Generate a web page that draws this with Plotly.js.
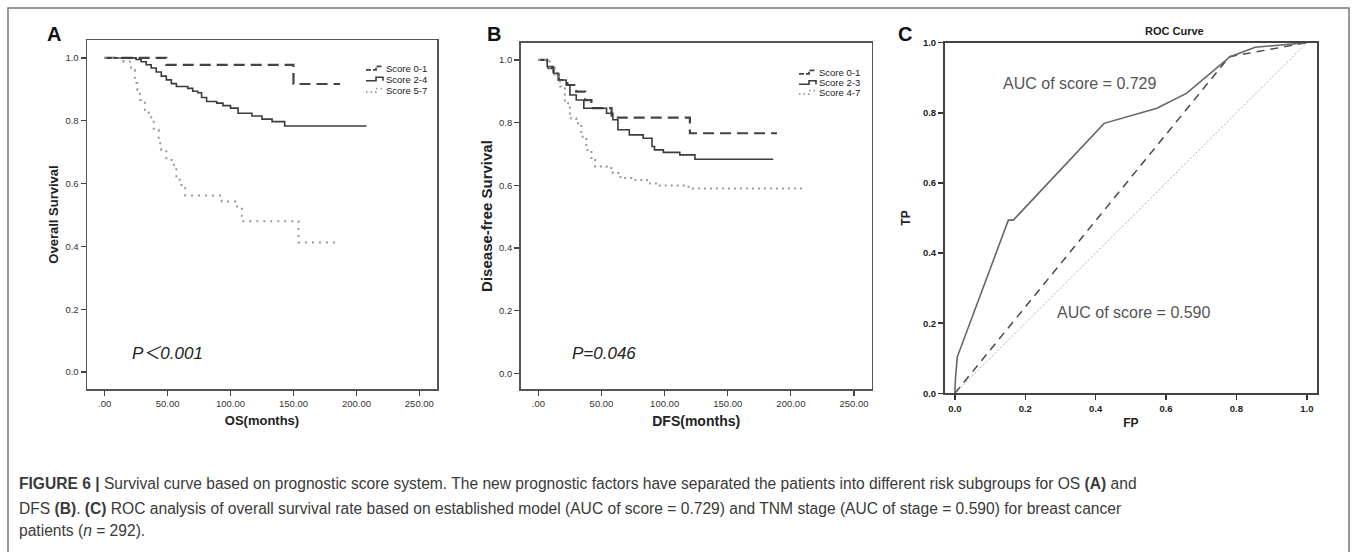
<!DOCTYPE html>
<html>
<head>
<meta charset="utf-8">
<script src="https://cdn.plot.ly/plotly-3.0.1.min.js"></script>
<style>
  html, body { margin: 0; padding: 0; background: #fff; }
  #chart { width: 1357px; height: 552px; }
</style>
</head>
<body>
<div id="chart"></div>
<script>
// ---------------- DATA ----------------
// Panel A: overall survival (Kaplan-Meier step curves)
const osTime01 = [0, 49, 150, 187];
const osSurv01 = [1.0, 0.978, 0.917, 0.917];
const osTime24 = [0, 25, 29, 33, 37, 41, 45, 49, 53, 57, 66, 70, 74, 77, 81, 89, 94, 100, 106, 117, 125, 133, 143, 208];
const osSurv24 = [1.0, 0.995, 0.988, 0.978, 0.968, 0.955, 0.942, 0.930, 0.918, 0.909, 0.903, 0.894, 0.889, 0.874, 0.861, 0.856, 0.848, 0.840, 0.824, 0.815, 0.805, 0.797, 0.783, 0.783];
const osTime57 = [0, 15, 21, 24, 26, 28, 32, 35, 39, 43, 45, 49, 55, 57, 61, 64, 93, 104, 109, 154, 183];
const osSurv57 = [1.0, 0.988, 0.962, 0.920, 0.898, 0.866, 0.834, 0.811, 0.771, 0.728, 0.707, 0.675, 0.654, 0.612, 0.585, 0.562, 0.543, 0.527, 0.480, 0.412, 0.412];
const osLegend = ["Score 0-1", "Score 2-4", "Score 5-7"];

// Panel B: disease-free survival
const dfsTime01 = [0, 7, 12, 16, 23, 30, 37, 42, 58, 120, 189];
const dfsSurv01 = [1.0, 0.974, 0.952, 0.936, 0.920, 0.899, 0.872, 0.846, 0.816, 0.766, 0.766];
const dfsTime23 = [0, 7, 12, 16, 22, 25, 30, 36, 54, 59, 63, 72, 83, 90, 92, 99, 112, 124, 186];
const dfsSurv23 = [1.0, 0.979, 0.957, 0.936, 0.920, 0.888, 0.872, 0.846, 0.830, 0.809, 0.777, 0.761, 0.750, 0.724, 0.713, 0.705, 0.697, 0.683, 0.683];
const dfsTime47 = [0, 9, 13, 17, 21, 25, 30, 34, 38, 42, 45, 54, 59, 65, 75, 86, 96, 119, 209];
const dfsSurv47 = [1.0, 0.974, 0.947, 0.915, 0.862, 0.814, 0.798, 0.755, 0.713, 0.681, 0.660, 0.655, 0.639, 0.623, 0.617, 0.606, 0.599, 0.590, 0.590];
const dfsLegend = ["Score 0-1", "Score 2-3", "Score 4-7"];

// Panel C: ROC curves
const fpScore = [0, 0.002, 0.007, 0.152, 0.166, 0.424, 0.574, 0.659, 0.782, 0.853, 1.0];
const tpScore = [0, 0.047, 0.104, 0.494, 0.494, 0.770, 0.813, 0.856, 0.960, 0.987, 1.0];
const fpStage = [0, 0.78, 1.0];
const tpStage = [0, 0.96, 1.0];
const fpRef = [0, 1];
const tpRef = [0, 1];

// Tick labels
const kmTickVals = [0, 50, 100, 150, 200, 250];
const kmTickText = [".00", "50.00", "100.00", "150.00", "200.00", "250.00"];
const survTickVals = [0, 0.2, 0.4, 0.6, 0.8, 1.0];
const survTickText = ["0.0", "0.2", "0.4", "0.6", "0.8", "1.0"];
const rocTickVals = [0, 0.2, 0.4, 0.6, 0.8, 1.0];
const rocTickText = ["0.0", "0.2", "0.4", "0.6", "0.8", "1.0"];

// Text
const pTextA = "P\uFF1C0.001";
const pTextB = "P=0.046";
const aucScoreText = "AUC of score = 0.729";
const aucStageText = "AUC of score = 0.590";
const captionLines = [
  "<b>FIGURE 6 |</b> Survival curve based on prognostic score system. The new prognostic factors have separated the patients into different risk subgroups for OS <b>(A)</b> and",
  "DFS <b>(B)</b>. <b>(C)</b> ROC analysis of overall survival rate based on established model (AUC of score = 0.729) and TNM stage (AUC of stage = 0.590) for breast cancer",
  "patients (<i>n</i> = 292)."
];

// ---------------- LAYOUT HELPERS ----------------
const W = 1357, H = 552;
const px = x => x / W;
const py = y => 1 - y / H;
const FONT = "Arial, 'Liberation Sans', sans-serif";

const styles01 = { color: "#444", width: 2.2, dash: "11px,6px" };
const styles24 = { color: "#3c3c3c", width: 1.6, dash: "solid" };
const styles57 = { color: "#999", width: 2, dash: "2px,5px" };

function km(x, y, name, style, xa, ya) {
  return { type: "scatter", mode: "lines", x: x, y: y, name: name,
    line: { shape: "hv", color: style.color, width: style.width, dash: style.dash },
    xaxis: xa, yaxis: ya, showlegend: false, hoverinfo: "skip" };
}

const traces = [
  km(osTime01, osSurv01, osLegend[0], styles01, "x", "y"),
  km(osTime24, osSurv24, osLegend[1], styles24, "x", "y"),
  km(osTime57, osSurv57, osLegend[2], styles57, "x", "y"),
  km(dfsTime01, dfsSurv01, dfsLegend[0], styles01, "x2", "y2"),
  km(dfsTime23, dfsSurv23, dfsLegend[1], styles24, "x2", "y2"),
  km(dfsTime47, dfsSurv47, dfsLegend[2], { color: "#999", width: 2, dash: "2px,4px" }, "x2", "y2"),
  { type: "scatter", mode: "lines", x: fpRef, y: tpRef, xaxis: "x3", yaxis: "y3",
    line: { color: "#aaa", width: 1, dash: "2px,2px" }, showlegend: false, hoverinfo: "skip" },
  { type: "scatter", mode: "lines", x: fpStage, y: tpStage, xaxis: "x3", yaxis: "y3",
    line: { color: "#4a4a4a", width: 1.5, dash: "8px,6px" }, showlegend: false, hoverinfo: "skip" },
  { type: "scatter", mode: "lines", x: fpScore, y: tpScore, xaxis: "x3", yaxis: "y3",
    line: { color: "#666", width: 1.6 }, showlegend: false, hoverinfo: "skip" }
];

function kmX(domain, titleText, titleSize) {
  return { domain: domain, range: [-14, 264], tickmode: "array", tickvals: kmTickVals, ticktext: kmTickText,
    ticks: "outside", ticklen: 5, tickwidth: 1.2, tickcolor: "#444",
    showline: true, linecolor: "#555", linewidth: 1.5, mirror: true,
    showgrid: false, zeroline: false, fixedrange: true,
    tickfont: { family: FONT, size: 9.5, color: "#333" },
    title: { text: "<b>" + titleText + "</b>", font: { family: FONT, size: titleSize, color: "#222" }, standoff: 8 } };
}
function kmY(domain, range, titleText, titleSize, standoff) {
  return { domain: domain, range: range, tickmode: "array", tickvals: survTickVals, ticktext: survTickText,
    ticks: "outside", ticklen: 5, tickwidth: 1.2, tickcolor: "#444",
    showline: true, linecolor: "#555", linewidth: 1.5, mirror: true,
    showgrid: false, zeroline: false, fixedrange: true,
    tickfont: { family: FONT, size: 9.5, color: "#333" },
    title: { text: "<b>" + titleText + "</b>", font: { family: FONT, size: titleSize, color: "#222" }, standoff: standoff } };
}

const layout = {
  width: W, height: H,
  margin: { l: 0, r: 0, t: 0, b: 0 },
  paper_bgcolor: "#fff", plot_bgcolor: "#fff",
  showlegend: false,
  xaxis: Object.assign(kmX([px(87), px(437)], "OS(months)", 13), { anchor: "y" }),
  yaxis: Object.assign(kmY([py(389), py(40)], [-0.054, 1.057], "Overall Survival", 13, 4), { anchor: "x" }),
  xaxis2: Object.assign(kmX([px(520.7), px(871.7)], "DFS(months)", 14), { anchor: "y2" }),
  yaxis2: Object.assign(kmY([py(389.3), py(42.7)], [-0.051, 1.055], "Disease-free Survival", 15, 3), { anchor: "x2" }),
  xaxis3: { domain: [px(945), px(1316.7)], range: [-0.028, 1.028], anchor: "y3",
    tickmode: "array", tickvals: rocTickVals, ticktext: rocTickText,
    ticks: "outside", ticklen: 5, tickwidth: 1.5, tickcolor: "#333",
    showline: true, linecolor: "#444", linewidth: 2, mirror: true,
    showgrid: false, zeroline: false, fixedrange: true,
    tickfont: { family: FONT, size: 9.5, color: "#222", weight: "bold" },
    title: { text: "<b>FP</b>", font: { family: FONT, size: 12, color: "#222" }, standoff: 6 } },
  yaxis3: { domain: [py(393.3), py(42.7)], range: [0, 1], anchor: "x3",
    tickmode: "array", tickvals: rocTickVals, ticktext: rocTickText,
    ticks: "outside", ticklen: 5, tickwidth: 1.5, tickcolor: "#333",
    showline: true, linecolor: "#444", linewidth: 2, mirror: true,
    showgrid: false, zeroline: false, fixedrange: true,
    tickfont: { family: FONT, size: 9.5, color: "#222", weight: "bold" },
    title: { text: "<b>TP</b>", font: { family: FONT, size: 12, color: "#222" }, standoff: 10 } },
  shapes: [],
  annotations: []
};

// outer frame
layout.shapes.push({ type: "rect", xref: "paper", yref: "paper",
  x0: px(8), x1: px(1349), y0: -0.05, y1: py(8),
  line: { color: "#777", width: 1.5 }, fillcolor: "rgba(0,0,0,0)", layer: "below" });

// panel letters
[["A", 54, 34], ["B", 494, 34], ["C", 905, 34]].forEach(p => {
  layout.annotations.push({ text: "<b>" + p[0] + "</b>", xref: "paper", yref: "paper",
    x: px(p[1]), y: py(p[2]), xanchor: "center", yanchor: "middle", showarrow: false,
    font: { family: FONT, size: 20, color: "#111" } });
});

// ROC title
layout.annotations.push({ text: "<b>ROC Curve</b>", xref: "paper", yref: "paper",
  x: px(1174), y: py(31), xanchor: "center", yanchor: "middle", showarrow: false,
  font: { family: FONT, size: 11, color: "#222" } });

// P values
layout.annotations.push({ text: "<i>" + pTextA + "</i>", xref: "paper", yref: "paper",
  x: px(130), y: py(353), xanchor: "left", yanchor: "middle", showarrow: false,
  font: { family: FONT + ", 'Noto Sans CJK SC'", size: 17, color: "#222" } });
layout.annotations.push({ text: "<i>" + pTextB + "</i>", xref: "paper", yref: "paper",
  x: px(570), y: py(353), xanchor: "left", yanchor: "middle", showarrow: false,
  font: { family: FONT, size: 17, color: "#222" } });

// AUC texts
layout.annotations.push({ text: aucScoreText, xref: "paper", yref: "paper",
  x: px(1001), y: py(83), xanchor: "left", yanchor: "middle", showarrow: false,
  font: { family: FONT, size: 16, color: "#555" } });
layout.annotations.push({ text: aucStageText, xref: "paper", yref: "paper",
  x: px(1055), y: py(312), xanchor: "left", yanchor: "middle", showarrow: false,
  font: { family: FONT, size: 16, color: "#555" } });

// legends (keys + text)
function addLegend(names, styleList, keyX0, textX, rowsY) {
  names.forEach((nm, i) => {
    const st = styleList[i];
    const y = rowsY[i];
    const x0 = keyX0, xm = keyX0 + 10, x1 = keyX0 + 17;
    const path = "M" + px(x0) + "," + py(y + 1.5) + " L" + px(xm) + "," + py(y + 1.5) +
                 " L" + px(xm) + "," + py(y - 2) + " L" + px(x1) + "," + py(y - 2) +
                 (i === 1 ? " L" + px(x1) + "," + py(y + 1.5) : "");
    layout.shapes.push({ type: "path", xref: "paper", yref: "paper", path: path,
      line: { color: st.color, width: Math.min(st.width, 1.8), dash: i === 0 ? "5px,2px" : (i === 2 ? "1.5px,3px" : "solid") } });
    layout.annotations.push({ text: nm, xref: "paper", yref: "paper",
      x: px(textX), y: py(y), xanchor: "left", yanchor: "middle", showarrow: false,
      font: { family: FONT, size: 9.5, color: "#222" } });
  });
}
addLegend(osLegend, [styles01, styles24, styles57], 366, 384, [68.3, 79.3, 90.7]);
addLegend(dfsLegend, [styles01, styles24, styles57], 799, 817, [72.3, 82.7, 92.7]);

// caption
const capY = [483.3, 508.3, 530.7];
captionLines.forEach((t, i) => {
  layout.annotations.push({ text: t, xref: "paper", yref: "paper",
    x: px(16.7), y: py(capY[i]), xanchor: "left", yanchor: "middle", showarrow: false,
    font: { family: "'Liberation Sans', Arial, sans-serif", size: 15.6, color: "#3a3a3a" } });
});

Plotly.newPlot("chart", traces, layout, { staticPlot: true, displayModeBar: false });
</script>
</body>
</html>
